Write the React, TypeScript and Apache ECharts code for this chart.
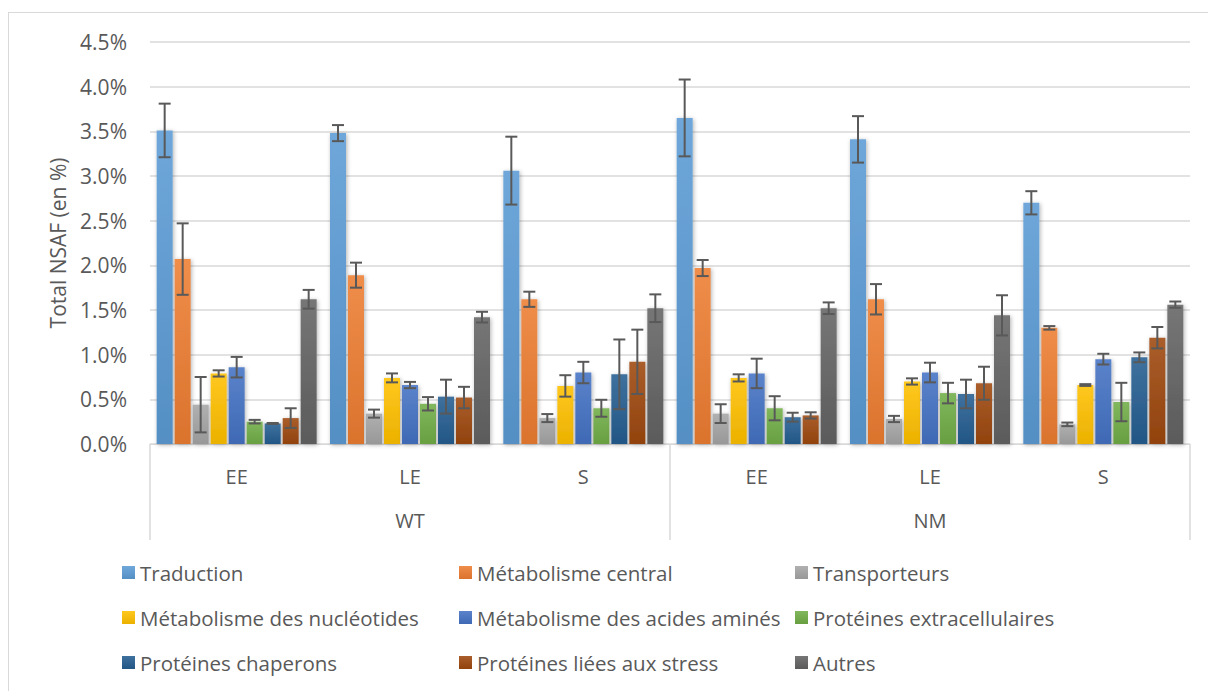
import React, { useEffect, useRef } from 'react';
import * as echarts from 'echarts';

const categories = ['EE', 'LE', 'S', 'EE', 'LE', 'S'];
const groups = ['WT', 'NM'];
const yTicks = [0, 0.5, 1, 1.5, 2, 2.5, 3, 3.5, 4, 4.5];

const seriesNames = [
  'Traduction',
  'Métabolisme central',
  'Transporteurs',
  'Métabolisme des nucléotides',
  'Métabolisme des acides aminés',
  'Protéines extracellulaires',
  'Protéines chaperons',
  'Protéines liées aux stress',
  'Autres',
];

const traduction = [3.51, 3.48, 3.06, 3.65, 3.41, 2.7];
const traductionErr = [0.3, 0.09, 0.38, 0.43, 0.26, 0.13];
const central = [2.07, 1.89, 1.62, 1.97, 1.62, 1.3];
const centralErr = [0.4, 0.14, 0.085, 0.09, 0.17, 0.02];
const transporteurs = [0.44, 0.34, 0.29, 0.34, 0.28, 0.22];
const transporteursErr = [0.31, 0.045, 0.045, 0.105, 0.035, 0.02];
const nucleotides = [0.79, 0.74, 0.65, 0.74, 0.7, 0.66];
const nucleotidesErr = [0.035, 0.05, 0.12, 0.04, 0.035, 0.01];
const acidesAmines = [0.86, 0.66, 0.8, 0.79, 0.8, 0.95];
const acidesAminesErr = [0.115, 0.035, 0.12, 0.165, 0.11, 0.06];
const extracellulaires = [0.25, 0.45, 0.4, 0.4, 0.57, 0.47];
const extracellulairesErr = [0.02, 0.075, 0.095, 0.135, 0.115, 0.215];
const chaperons = [0.23, 0.53, 0.78, 0.3, 0.56, 0.97];
const chaperonsErr = [0.005, 0.19, 0.39, 0.05, 0.16, 0.055];
const stress = [0.29, 0.52, 0.92, 0.32, 0.68, 1.19];
const stressErr = [0.11, 0.12, 0.36, 0.035, 0.185, 0.12];
const autres = [1.62, 1.42, 1.52, 1.52, 1.44, 1.56];
const autresErr = [0.105, 0.06, 0.155, 0.065, 0.225, 0.035];

const values = [traduction, central, transporteurs, nucleotides, acidesAmines, extracellulaires, chaperons, stress, autres];
const errors = [traductionErr, centralErr, transporteursErr, nucleotidesErr, acidesAminesErr, extracellulairesErr, chaperonsErr, stressErr, autresErr];
const colors = ['#5B9BD5', '#ED7D31', '#A5A5A5', '#FFC000', '#4472C4', '#70AD47', '#255E91', '#9E480E', '#636363'];

const FONT = '"Open Sans", sans-serif';
const TXT = '#595959';
const LINE = '#d9d9d9';
const BAR_W = 16;
const BAR_GAP = 2;

function mix(hex: string, target: number, t: number) {
  const n = parseInt(hex.slice(1), 16);
  const ch = [(n >> 16) & 255, (n >> 8) & 255, n & 255].map((c) => Math.round(c + (target - c) * t));
  return '#' + ch.map((c) => c.toString(16).padStart(2, '0')).join('');
}

function grad(hex: string) {
  return new echarts.graphic.LinearGradient(0, 0, 0, 1, [
    { offset: 0, color: mix(hex, 255, 0.12) },
    { offset: 1, color: mix(hex, 0, 0.08) },
  ]);
}

export default function App() {
  const ref = useRef<HTMLDivElement>(null);
  useEffect(() => {
    document.body.style.overflow = 'hidden';
    const chart = echarts.init(ref.current!, null, { renderer: 'svg' });

    const barSeries = seriesNames.map((name, k) => ({
      name,
      type: 'bar',
      xAxisIndex: 0,
      yAxisIndex: 0,
      data: values[k],
      barWidth: BAR_W,
      barGap: (BAR_GAP / BAR_W) * 100 + '%',
      itemStyle: {
        color: grad(colors[k]),
        shadowBlur: 4,
        shadowColor: 'rgba(0,0,0,0.3)',
        shadowOffsetX: 1,
        shadowOffsetY: 1,
      },
      z: 2,
    }));

    const errSeries = seriesNames.map((name, k) => ({
      name: 'err-' + name,
      type: 'custom',
      xAxisIndex: 0,
      yAxisIndex: 0,
      z: 5,
      silent: true,
      data: values[k].map((v, i) => [i, v, errors[k][i]]),
      encode: { x: 0, y: 1 },
      renderItem: (params: any, api: any) => {
        const i = api.value(0);
        const v = api.value(1);
        const e = api.value(2);
        const off = (k - (seriesNames.length - 1) / 2) * (BAR_W + BAR_GAP);
        const hi = api.coord([i, v + e]);
        const lo = api.coord([i, v - e]);
        const x = hi[0] + off;
        const cap = 6;
        const style = { stroke: '#595959', lineWidth: 2 };
        return {
          type: 'group',
          children: [
            { type: 'line', shape: { x1: x, y1: hi[1], x2: x, y2: lo[1] }, style },
            { type: 'line', shape: { x1: x - cap, y1: hi[1], x2: x + cap, y2: hi[1] }, style },
            { type: 'line', shape: { x1: x - cap, y1: lo[1], x2: x + cap, y2: lo[1] }, style },
          ],
        };
      },
    }));

    const legendCol = (left: number, names: string[]) => ({
      left,
      top: 543,
      orient: 'vertical',
      data: names,
      icon: 'rect',
      itemWidth: 13,
      itemHeight: 13,
      itemGap: 20,
      textStyle: { fontFamily: FONT, fontSize: 20.5, color: TXT, lineHeight: 25 },
      selectedMode: false,
    });

    const option: any = {
      animation: false,
      backgroundColor: '#ffffff',
      textStyle: { fontFamily: FONT },
      grid: { left: 142, top: 30, width: 1040, height: 402, containLabel: false },
      graphic: [
        { type: 'line', shape: { x1: 0.5, y1: 0, x2: 0.5, y2: 679 }, style: { stroke: LINE, lineWidth: 1 } },
        { type: 'line', shape: { x1: 0, y1: 0.5, x2: 1200, y2: 0.5 }, style: { stroke: LINE, lineWidth: 1 } },
      ],
      legend: [
        legendCol(109, [seriesNames[0], seriesNames[3], seriesNames[6]]),
        legendCol(446, [seriesNames[1], seriesNames[4], seriesNames[7]]),
        legendCol(782, [seriesNames[2], seriesNames[5], seriesNames[8]]),
      ],
      xAxis: [
        {
          type: 'category',
          data: categories,
          position: 'bottom',
          axisLine: { show: true, lineStyle: { color: LINE, width: 1 } },
          axisTick: { show: false },
          axisLabel: { color: TXT, fontFamily: FONT, fontSize: 20, margin: 22 },
        },
        {
          type: 'category',
          data: groups,
          position: 'bottom',
          axisLine: { show: false },
          axisTick: { show: true, length: 96, lineStyle: { color: LINE, width: 1.5 } },
          axisLabel: { color: TXT, fontFamily: FONT, fontSize: 20, margin: 66 },
          splitLine: { show: false },
        },
      ],
      yAxis: {
        type: 'value',
        min: 0,
        max: 4.5,
        interval: 0.5,
        name: 'Total NSAF (en %)',
        nameLocation: 'middle',
        nameGap: 82,
        nameTextStyle: { color: TXT, fontFamily: FONT, fontSize: 21 },
        axisLine: { show: false },
        axisTick: { show: false },
        axisLabel: {
          color: TXT,
          fontFamily: FONT,
          fontSize: 21,
          margin: 23,
          formatter: (v: number) => (yTicks.includes(v) ? v.toFixed(1) + '%' : ''),
        },
        splitLine: { lineStyle: { color: LINE, width: 1.5 } },
      },
      series: [...barSeries, ...errSeries],
    };

    chart.setOption(option);
    return () => chart.dispose();
  }, []);
  return <div ref={ref} style={{ position: 'absolute', left: 8, top: 12, width: 1200, height: 679 }} />;
}
